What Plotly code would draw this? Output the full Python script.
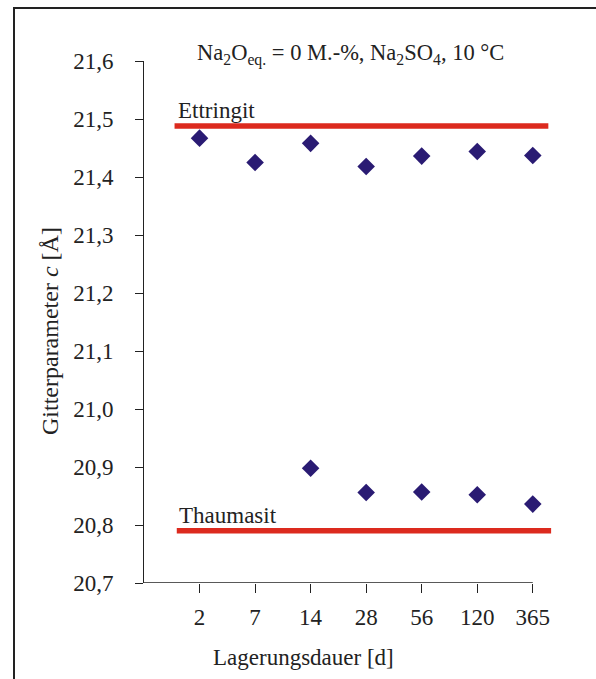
import plotly.graph_objects as go

# Storage time categories (days)
days = ["2", "7", "14", "28", "56", "120", "365"]

# Lattice parameter c [Å] of the ettringite-type phase
ettringite_c = [21.467, 21.425, 21.458, 21.418, 21.436, 21.444, 21.437]
# Lattice parameter c [Å] of the thaumasite-type phase (not present before 14 d)
thaumasite_c = [None, None, 20.898, 20.856, 20.857, 20.852, 20.836]

# Reference values of the pure phases
ref_ettringite = 21.488
ref_thaumasite = 20.790

y_ticks = [20.7, 20.8, 20.9, 21.0, 21.1, 21.2, 21.3, 21.4, 21.5, 21.6]
y_ticktext = [f"{v:.1f}".replace(".", ",") for v in y_ticks]

pos = list(range(len(days)))

FONT = "Liberation Serif"
MARK = "#2a1b73"
RED = "#dc2a1e"
INK = "#222222"

fig = go.Figure()

# Reference lines of the pure phases
fig.add_trace(go.Scatter(x=[-0.45, 6.28], y=[ref_ettringite] * 2, mode="lines",
                         line=dict(color=RED, width=5.5), hoverinfo="skip"))
fig.add_trace(go.Scatter(x=[-0.41, 6.33], y=[ref_thaumasite] * 2, mode="lines",
                         line=dict(color=RED, width=5.5), hoverinfo="skip"))

# Measured lattice parameters
marker = dict(symbol="diamond", size=13.5, color=MARK)
fig.add_trace(go.Scatter(x=pos, y=ettringite_c, mode="markers", marker=marker))
fig.add_trace(go.Scatter(x=pos, y=thaumasite_c, mode="markers", marker=marker))

fig.update_layout(
    width=596, height=679,
    margin=dict(l=144, r=41, t=61, b=96),
    paper_bgcolor="white", plot_bgcolor="white",
    showlegend=False,
    font=dict(family=FONT, color=INK, size=23),
    xaxis=dict(range=[-1, 6.4], tickvals=pos, ticktext=days,
               showgrid=False, zeroline=False, showline=False,
               ticks="outside", ticklen=9, tickwidth=1, tickcolor=INK,
               ticklabelstandoff=4, tickfont=dict(size=23, family=FONT)),
    yaxis=dict(range=[20.7, 21.6], tickvals=y_ticks, ticktext=y_ticktext,
               showgrid=False, zeroline=False, showline=True,
               linecolor=INK, linewidth=1,
               ticks="outside", ticklen=8, tickwidth=1, tickcolor=INK,
               ticklabelstandoff=17, tickfont=dict(size=23, family=FONT)),
    shapes=[
        # x axis line ending at the last category
        dict(type="line", xref="x", yref="y", x0=-1, x1=6, y0=20.7, y1=20.7,
             line=dict(color=INK, width=1.3)),
        # frame around the chart
        dict(type="rect", xref="paper", yref="paper",
             x0=-0.3163, x1=2, y0=-1, y1=1.1015,
             line=dict(color=INK, width=2)),
    ],
    annotations=[
        dict(text="Na<sub>2</sub>O<sub>eq.</sub> = 0 M.-%, Na<sub>2</sub>SO<sub>4</sub>, 10 °C",
             xref="paper", yref="paper", x=(350 - 144) / 411, y=1 + (61 - 55) / 522,
             xanchor="center", yanchor="middle", showarrow=False,
             font=dict(size=22.5, family=FONT, color=INK)),
        dict(text="Ettringit", xref="x", yref="y", x=-0.42, y=ref_ettringite,
             xanchor="left", yanchor="bottom", yshift=1, showarrow=False,
             font=dict(size=23, family=FONT, color=INK)),
        dict(text="Thaumasit", xref="x", yref="y", x=-0.41, y=ref_thaumasite,
             xanchor="left", yanchor="bottom", yshift=1, showarrow=False,
             font=dict(size=23, family=FONT, color=INK)),
        dict(text="Gitterparameter <i>c</i> [Å]", xref="paper", yref="paper",
             x=(50 - 144) / 411, y=(583 - 331) / 522, textangle=-90,
             xanchor="center", yanchor="middle", showarrow=False,
             font=dict(size=24, family=FONT, color=INK)),
        dict(text="Lagerungsdauer [d]", xref="paper", yref="paper",
             x=(303 - 144) / 411, y=-(657 - 583) / 522,
             xanchor="center", yanchor="middle", showarrow=False,
             font=dict(size=23, family=FONT, color=INK)),
    ],
)

fig.write_html("out.html")
